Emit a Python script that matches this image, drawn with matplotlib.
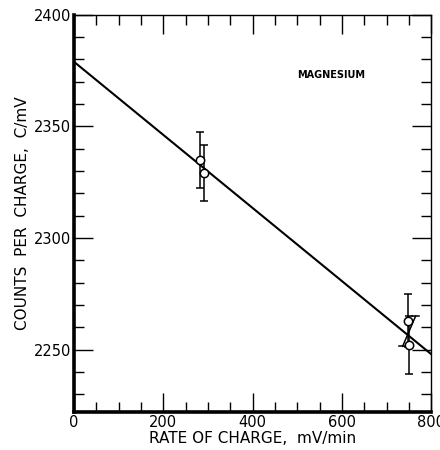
import numpy as np
import matplotlib.pyplot as plt
from matplotlib.ticker import MultipleLocator

# measured counts per charge vs charging rate
rate = [282, 291, 748, 751]
counts = [2335, 2329, 2263, 2252]
err_lo = [12.5, 12.5, 12, 13]
err_hi = [12.5, 12.5, 12, 13]

# skewed error segment drawn between the two high-rate points
skew_x = [736, 765]
skew_y = [2251.5, 2265]

# least-squares line
fit_x = [0, 800]
fit_y = [2379, 2248]

plt.rcParams['font.family'] = ['DejaVu Sans']

fig = plt.figure(figsize=(4.4, 4.5), dpi=100)
ax = fig.add_axes([0.168, 0.084, 0.812, 0.883])

ax.plot(fit_x, fit_y, color='black', lw=1.5, zorder=2)
ax.errorbar(rate, counts, yerr=[err_lo, err_hi], fmt='o', ms=6,
            mfc='white', mec='black', mew=1.1, ecolor='black',
            elinewidth=1.1, capsize=3, capthick=1.1, zorder=3)
ax.plot(skew_x, skew_y, color='black', lw=1.1, zorder=2)
for sx, sy in zip(skew_x, skew_y):
    ax.plot([sx - 8, sx + 8], [sy, sy], color='black', lw=1.1)

ax.text(499, 2373, 'MAGNESIUM', fontsize=7, fontweight='bold', va='center')

ax.set_xlim(0, 800)
ax.set_ylim(2222, 2400)
ax.xaxis.set_major_locator(MultipleLocator(200))
ax.xaxis.set_minor_locator(MultipleLocator(50))
ax.yaxis.set_major_locator(MultipleLocator(50))
ax.yaxis.set_minor_locator(MultipleLocator(10))
ax.set_yticks([2250, 2300, 2350, 2400])

ax.tick_params(which='both', direction='in', top=True, right=True,
               labelsize=10.5, pad=2, width=1)
ax.tick_params(which='major', length=14)
ax.tick_params(which='minor', length=7.5)

ax.spines['left'].set_linewidth(2.6)
ax.spines['bottom'].set_linewidth(2.6)
ax.spines['top'].set_linewidth(1)
ax.spines['right'].set_linewidth(1)

ax.set_xlabel('RATE OF CHARGE,  mV/min', fontsize=11, labelpad=1)
ax.set_ylabel('COUNTS  PER  CHARGE,  C/mV', fontsize=11, labelpad=3)

fig.savefig('out.png', dpi=100)
